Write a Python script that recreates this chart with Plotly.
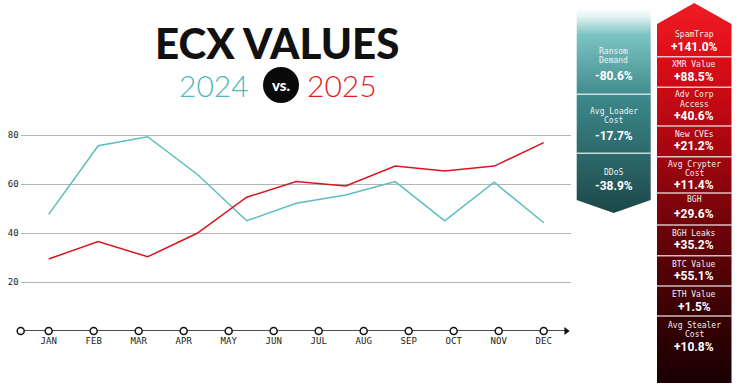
import numpy as np
import plotly.graph_objects as go

# ---------------- data ----------------
months = ["JAN", "FEB", "MAR", "APR", "MAY", "JUN", "JUL", "AUG", "SEP", "OCT", "NOV", "DEC"]
values_2024 = [47.6, 75.6, 79.3, 64.0, 45.0, 52.1, 55.5, 61.0, 45.0, 60.7, 44.2]
values_2025 = [29.4, 36.5, 30.3, 39.9, 54.6, 61.0, 59.2, 67.3, 65.3, 67.3, 76.9]
y_ticks = [20, 40, 60, 80]

down_labels = ["Ransom<br>Demand", "Avg Loader<br>Cost", "DDoS"]
down_values = [-80.6, -17.7, -38.9]
up_labels = ["SpamTrap", "XMR Value", "Adv Corp<br>Access", "New CVEs", "Avg Crypter<br>Cost",
             "BGH", "BGH Leaks", "BTC Value", "ETH Value", "Avg Stealer<br>Cost"]
up_values = [141.0, 88.5, 40.6, 21.2, 11.4, 29.6, 35.2, 55.1, 1.5, 10.8]

# ---------------- layout constants ----------------
W, H = 740, 392
TEAL = "#5bbdbd"
RED = "#d9141c"
LABEL_FONT = "DejaVu Sans Mono"
VALUE_FONT = "Roboto"


def fx(p):
    return p / W


def fy(p):
    return 1 - p / H


fig = go.Figure()

# month positions
month_pos = list(range(1, len(months) + 1))
x_lo, x_hi = 0.378, 12.6
line_x = np.linspace(month_pos[0], month_pos[-1], len(values_2024))

# ---- lines ----
fig.add_trace(go.Scatter(x=line_x, y=values_2024, mode="lines",
                         line=dict(color=TEAL, width=1.5), showlegend=False, hoverinfo="skip"))
fig.add_trace(go.Scatter(x=line_x, y=values_2025, mode="lines",
                         line=dict(color=RED, width=1.5), showlegend=False, hoverinfo="skip"))

# ---- x axis line with circles and arrow ----
fig.add_shape(type="line", xref="x", yref="y", x0=x_lo, x1=x_hi - 0.08, y0=0, y1=0,
              line=dict(color="#111", width=1.5), layer="below")
fig.add_trace(go.Scatter(x=[x_hi - 0.1], y=[0], mode="markers",
                         marker=dict(symbol="triangle-right", size=7, color="#111"),
                         cliponaxis=False, showlegend=False, hoverinfo="skip"))
fig.add_trace(go.Scatter(x=[x_lo] + month_pos, y=[0] * (len(month_pos) + 1), mode="markers",
                         marker=dict(symbol="circle", size=7, color="white",
                                     line=dict(color="#111", width=1.5)),
                         cliponaxis=False, showlegend=False, hoverinfo="skip"))

# ---------------- panels (pixel coordinate axes x3/y3) ----------------
LX0, LX1 = 576.7, 650.7
L_TOP, L_SIDE_BOT, L_TIP = 8, 200, 213
RX0, RX1 = 657.0, 731.5
R_APEX, R_SHOULDER, R_BOT = 3, 24, 383

LCX = (LX0 + LX1) / 2
RCX = (RX0 + RX1) / 2

fig.add_trace(go.Scatter(
    x=[LX0, LX1, LX1, LCX, LX0, LX0], y=[L_TOP, L_TOP, L_SIDE_BOT, L_TIP, L_SIDE_BOT, L_TOP],
    xaxis="x3", yaxis="y3", mode="lines", line=dict(width=0), fill="toself",
    fillgradient=dict(type="vertical", start=L_TOP, stop=L_TIP,
                      colorscale=[[0, "#ffffff"], [0.04, "#e6f3f3"], [0.13, "#7cc4c4"],
                                  [0.45, "#3b8688"], [0.8, "#285f61"], [1, "#1d4748"]]),
    showlegend=False, hoverinfo="skip"))

fig.add_trace(go.Scatter(
    x=[RCX, RX1, RX1, RX0, RX0, RCX], y=[R_APEX, R_SHOULDER, R_BOT, R_BOT, R_SHOULDER, R_APEX],
    xaxis="x3", yaxis="y3", mode="lines", line=dict(width=0), fill="toself",
    fillgradient=dict(type="vertical", start=R_APEX, stop=R_BOT,
                      colorscale=[[0, "#ef1c24"], [0.15, "#dc0d17"], [0.38, "#a8060f"],
                                  [0.58, "#70030a"], [0.8, "#3c0105"], [1, "#1a0002"]]),
    showlegend=False, hoverinfo="skip"))

# separators
left_seps = [94.3, 153.3]
right_seps = [56.7, 87.3, 126.0, 156.7, 193.0, 225.0, 255.7, 286.0, 316.0]
for s in left_seps:
    fig.add_shape(type="line", xref="x3", yref="y3", x0=LX0, x1=LX1, y0=s, y1=s,
                  line=dict(color="rgba(255,255,255,0.75)", width=1.5))
for s in right_seps:
    fig.add_shape(type="line", xref="x3", yref="y3", x0=RX0, x1=RX1, y0=s, y1=s,
                  line=dict(color="rgba(255,255,255,0.75)", width=1.5))

# text positions (pixel y of label line 1, value)
left_text_y = [(51.7, 76.0), (111.0, 136.0), (172.7, 185.5)]
right_text_y = [(34.0, 46.5), (64.5, 77.0), (95.0, 116.0), (134.0, 146.0), (164.0, 184.5),
                (199.0, 214.0), (233.0, 245.0), (264.0, 275.5), (294.5, 306.5), (325.0, 346.5)]
LINE_GAP = 9.0


def add_box_text(cx, label, value, ly, vy):
    for i, part in enumerate(label.split("<br>")):
        fig.add_annotation(x=fx(cx), y=fy(ly + i * LINE_GAP), xref="paper", yref="paper",
                           text=part, showarrow=False, xanchor="center", yanchor="middle",
                           font=dict(family=LABEL_FONT, size=8, color="#f2f2f2"))
    fig.add_annotation(x=fx(cx), y=fy(vy), xref="paper", yref="paper",
                       text=f"{value:+.1f}%", showarrow=False, xanchor="center", yanchor="middle",
                       font=dict(family=VALUE_FONT, size=12, color="white", weight="bold"))


for lab, val, (ly, vy) in zip(down_labels, down_values, left_text_y):
    add_box_text(LCX, lab, val, ly, vy)
for lab, val, (ly, vy) in zip(up_labels, up_values, right_text_y):
    add_box_text(RCX, lab, val, ly, vy)

# ---------------- title ----------------
fig.add_annotation(x=fx(277), y=fy(43), xref="paper", yref="paper", text="ECX VALUES",
                   showarrow=False, xanchor="center", yanchor="middle",
                   font=dict(family="Lato", size=42, color="#111", weight=900))
fig.add_annotation(x=fx(214), y=fy(85), xref="paper", yref="paper", text="2024",
                   showarrow=False, xanchor="center", yanchor="middle",
                   font=dict(family="Lato", size=30, color="#4cb8bf", weight=300))
fig.add_annotation(x=fx(342), y=fy(85), xref="paper", yref="paper", text="2025",
                   showarrow=False, xanchor="center", yanchor="middle",
                   font=dict(family="Lato", size=30, color="#e01b22", weight=300))
fig.add_shape(type="circle", xref="paper", yref="paper",
              x0=fx(281 - 18), x1=fx(281 + 18), y0=fy(85 + 18), y1=fy(85 - 18),
              fillcolor="#0a0a0a", line=dict(width=0))
fig.add_annotation(x=fx(281), y=fy(85), xref="paper", yref="paper", text="vs.",
                   showarrow=False, xanchor="center", yanchor="middle",
                   font=dict(family="Lato", size=15, color="white", weight=900))

# ---------------- axes ----------------
tick_font = dict(family=LABEL_FONT, size=9, color="#222")
fig.update_layout(
    width=W, height=H,
    margin=dict(l=0, r=0, t=0, b=0),
    paper_bgcolor="white", plot_bgcolor="rgba(0,0,0,0)",
    showlegend=False,
    xaxis=dict(domain=[fx(20.7), fx(570.7)], range=[x_lo, x_hi], tickmode="array",
               tickvals=month_pos, ticktext=months, showgrid=False, zeroline=False,
               showline=False, ticks="", tickfont=tick_font, fixedrange=True,
               ticklabelstandoff=3),
    yaxis=dict(domain=[fy(331), fy(110.5)], range=[0, 90], tickmode="array",
               tickvals=y_ticks, showgrid=True, gridcolor="#b4b4b4", gridwidth=1,
               zeroline=False, showline=False, ticks="", tickfont=tick_font, fixedrange=True,
               ticklabelstandoff=1),
    xaxis3=dict(domain=[0, 1], range=[0, W], visible=False, anchor="y3", fixedrange=True),
    yaxis3=dict(domain=[0, 1], range=[H, 0], visible=False, anchor="x3", fixedrange=True),
)

fig.write_html("out.html", config={"displayModeBar": False},
               post_script="document.body.style.margin='0';document.body.style.overflow='hidden';")
